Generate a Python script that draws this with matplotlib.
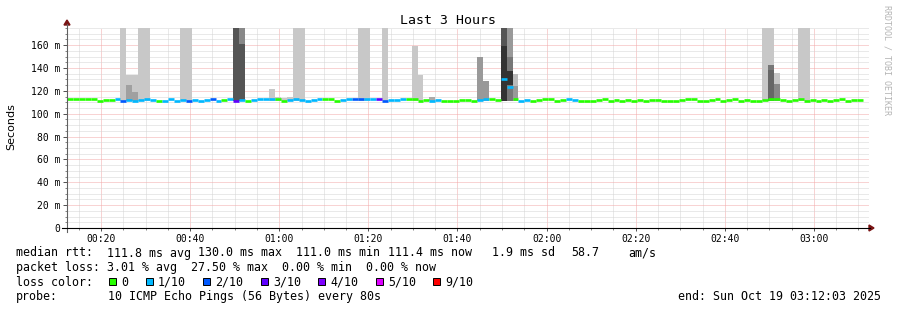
import matplotlib
matplotlib.use("Agg")
import matplotlib.pyplot as plt
from matplotlib.lines import Line2D
from matplotlib.patches import Rectangle, Polygon
from matplotlib.ticker import MultipleLocator

W, H = 897, 310

# time axis in minutes after midnight, one rrd step = 80 s
t_first = 12.36
step = 80 / 60.0

# median rtt per step (ms)
median = [112.6, 112.6, 112.6, 112.6, 112.6, 111.5, 112.1, 112.1, 112.6, 111.5,
          112.1, 111.5, 112.1, 112.6, 112.1, 111.5, 111.5, 112.6, 111.5, 112.1,
          111.5, 112.1, 111.5, 112.1, 112.6, 111.5, 112.1, 112.6, 111.5, 112.1,
          111.5, 112.1, 112.6, 112.6, 112.6, 112.6, 111.5, 112.1, 112.6, 112.1,
          111.5, 112.1, 112.6, 112.6, 112.6, 111.5, 112.1, 112.6, 112.6, 112.6,
          112.6, 112.6, 112.6, 111.5, 112.1, 112.1, 112.6, 112.6, 112.6, 111.5,
          112.1, 111.5, 112.1, 111.5, 111.5, 111.5, 112.1, 112.1, 111.5, 112.1,
          112.6, 112.6, 112.1, 130.5, 123.8, 112.6, 111.5, 112.1, 111.5, 112.1,
          112.6, 112.6, 111.5, 112.1, 112.6, 112.1, 111.5, 111.5, 111.5, 112.1,
          112.6, 111.5, 112.1, 111.5, 112.1, 111.5, 112.1, 111.5, 112.1, 112.1,
          111.5, 111.5, 111.5, 112.1, 112.6, 112.6, 111.5, 111.5, 112.1, 112.6,
          111.5, 112.1, 112.6, 111.5, 112.1, 111.5, 111.5, 112.1, 112.6, 112.6,
          112.1, 111.5, 112.1, 112.6, 111.5, 112.1, 111.5, 112.1, 111.5, 112.1,
          112.6, 111.5, 112.1, 112.1]

# lost pings out of 10 per step
loss = [0, 0, 0, 0, 0, 0, 0, 0, 1, 2,
        1, 1, 1, 1, 1, 0, 1, 1, 1, 1,
        2, 1, 1, 1, 2, 1, 0, 1, 3, 1,
        0, 1, 1, 1, 1, 0, 0, 1, 1, 1,
        1, 1, 1, 0, 0, 0, 1, 1, 2, 2,
        1, 1, 3, 2, 1, 1, 1, 0, 0, 0,
        0, 1, 1, 0, 0, 0, 0, 0, 0, 1,
        1, 0, 0, 1, 1, 0, 1, 1, 0, 0,
        0, 0, 0, 0, 1, 1] + [0] * 48

# smoke: step index, upper rtt (ms), shade
smoke_bin = [9, 10, 10, 11, 11, 12, 13, 19, 20, 28, 29, 29, 34, 35, 36, 37, 38, 39,
             49, 50, 53, 58, 59, 61, 69, 70, 73, 73, 74, 74, 74, 74, 75, 75,
             117, 118, 118, 118, 119, 119, 123, 124]
smoke_top = [180, 134, 125, 134, 119, 180, 180, 180, 180, 180, 180, 161, 122, 115, 114, 115,
             180, 180, 180, 180, 180, 159, 134, 114.5, 150, 129, 180, 159, 180, 150, 137, 125,
             135, 124, 180, 180, 142.5, 138, 136, 126, 180, 180]
smoke_grey = ['#c8c8c8', '#c8c8c8', '#a0a0a0', '#c8c8c8', '#a0a0a0', '#c8c8c8', '#c8c8c8',
              '#c8c8c8', '#c8c8c8', '#555555', '#888888', '#555555', '#c8c8c8', '#c8c8c8',
              '#c8c8c8', '#c8c8c8', '#c8c8c8', '#c8c8c8', '#c8c8c8', '#c8c8c8', '#c8c8c8',
              '#c8c8c8', '#c8c8c8', '#aaaaaa', '#999999', '#999999', '#555555', '#333333',
              '#999999', '#777777', '#333333', '#777777', '#bbbbbb', '#999999', '#c8c8c8',
              '#c8c8c8', '#777777', '#666666', '#c8c8c8', '#888888', '#c8c8c8', '#c8c8c8']
smoke_low = 111.5

loss_levels = [0, 1, 2, 3, 4, 5, 9]
loss_labels = ['0', '1/10', '2/10', '3/10', '4/10', '5/10', '9/10']
loss_colors = ['#26ff00', '#00b8ff', '#0059ff', '#5e00ff', '#7e00ff', '#dd00ff', '#ff0000']

y_ticks = [0, 20, 40, 60, 80, 100, 120, 140, 160]
y_labels = ['0'] + ['%d m' % v for v in y_ticks[1:]]
x_ticks = [20, 40, 60, 80, 100, 120, 140, 160, 180]
x_labels = ['00:20', '00:40', '01:00', '01:20', '01:40', '02:00', '02:20', '02:40', '03:00']

mono = 'DejaVu Sans Mono'


def fx(x):
    return x / W


def fy(y):
    return 1 - y / H


fig = plt.figure(figsize=(W / 100, H / 100), dpi=100)
fig.patch.set_facecolor('white')
ax = fig.add_axes([fx(67), fy(228), 802 / W, 200 / H])
ax.set_xlim(t_first, t_first + 180)
ax.set_ylim(0, 175)
for s in ax.spines.values():
    s.set_visible(False)

# grid
ax.set_xticks(x_ticks)
ax.set_xticklabels(x_labels, family=mono, fontsize=7)
ax.set_yticks(y_ticks)
ax.set_yticklabels(y_labels, family=mono, fontsize=7)
ax.xaxis.set_minor_locator(MultipleLocator(5))
ax.yaxis.set_minor_locator(MultipleLocator(5))
ax.grid(which='minor', color='#d4d4d4', linestyle=(0, (1, 1)), linewidth=0.72)
ax.grid(which='major', color='#f3a8a8', linestyle=(0, (1, 1)), linewidth=0.72)
ax.set_axisbelow(True)
ax.tick_params(axis='y', which='major', length=3, width=0.72, color='#555555', pad=2)
ax.tick_params(axis='x', which='major', length=2, width=0.72, color='#555555', pad=2.5)
ax.tick_params(which='minor', length=1.5, width=0.72, color='#888888')

# smoke
starts = [t_first + i * step for i in range(len(median))]
for b, top, g in zip(smoke_bin, smoke_top, smoke_grey):
    ax.bar(starts[b], top - smoke_low, bottom=smoke_low, width=step, align='edge',
           color=g, linewidth=0, zorder=2)

# median line coloured by loss
cmap = dict(zip(loss_levels, loss_colors))
ax.hlines(median, starts, [s + step for s in starts], colors=[cmap[l] for l in loss],
          linewidth=1.9, zorder=3)

# axis lines with arrows
fig.add_artist(Line2D([fx(67), fx(67)], [fy(232), fy(24)], color='#606060', lw=0.8))
fig.add_artist(Line2D([fx(62), fx(870)], [fy(228), fy(228)], color='black', lw=0.8))
fig.add_artist(Polygon([(fx(64), fy(25)), (fx(70), fy(25)), (fx(67), fy(20))],
                       closed=True, color='#7a1414', transform=fig.transFigure))
fig.add_artist(Polygon([(fx(869), fy(225)), (fx(869), fy(231)), (fx(874), fy(228))],
                       closed=True, color='#7a1414', transform=fig.transFigure))

# texts
fig.text(fx(448), fy(20), 'Last 3 Hours', ha='center', va='center', family=mono, fontsize=9.5)
fig.text(fx(11), fy(127), 'Seconds', rotation=90, ha='center', va='center', fontsize=8)
fig.text(fx(887), fy(5), 'RRDTOOL / TOBI OETIKER', rotation=270, ha='center', va='top',
         family=mono, fontsize=6, color='#b4b4b4')

fs = 8.4
row1 = [(16, 'median rtt:'), (107, '111.8 ms avg'), (198, '130.0 ms max'), (296, '111.0 ms min'),
        (388, '111.4 ms now'), (492, '1.9 ms sd'), (571, '58.7'), (628, 'am/s')]
row2 = [(16, 'packet loss: 3.01 % avg  27.50 % max  0.00 % min  0.00 % now')]
for x, s in row1:
    fig.text(fx(x), fy(253), s, ha='left', va='center', family=mono, fontsize=fs)
for x, s in row2:
    fig.text(fx(x), fy(267.5), s, ha='left', va='center', family=mono, fontsize=fs)

fig.text(fx(16), fy(282), 'loss color:', ha='left', va='center', family=mono, fontsize=fs)
sq_x = [108.5, 145.5, 203, 260.5, 318, 375.5, 433]
for x, c, lab in zip(sq_x, loss_colors, loss_labels):
    fig.add_artist(Rectangle((fx(x), fy(285)), 7 / W, 7 / H, facecolor=c, edgecolor='black',
                             lw=0.7, transform=fig.transFigure))
    fig.text(fx(x + 12.5), fy(282), lab, ha='left', va='center', family=mono, fontsize=fs)

fig.text(fx(16), fy(296.5), 'probe:', ha='left', va='center', family=mono, fontsize=fs)
fig.text(fx(107.5), fy(296.5), '10 ICMP Echo Pings (56 Bytes) every 80s', ha='left', va='center',
         family=mono, fontsize=fs)
fig.text(fx(881), fy(296.5), 'end: Sun Oct 19 03:12:03 2025', ha='right', va='center',
         family=mono, fontsize=fs)

fig.savefig('out.png', dpi=100)
